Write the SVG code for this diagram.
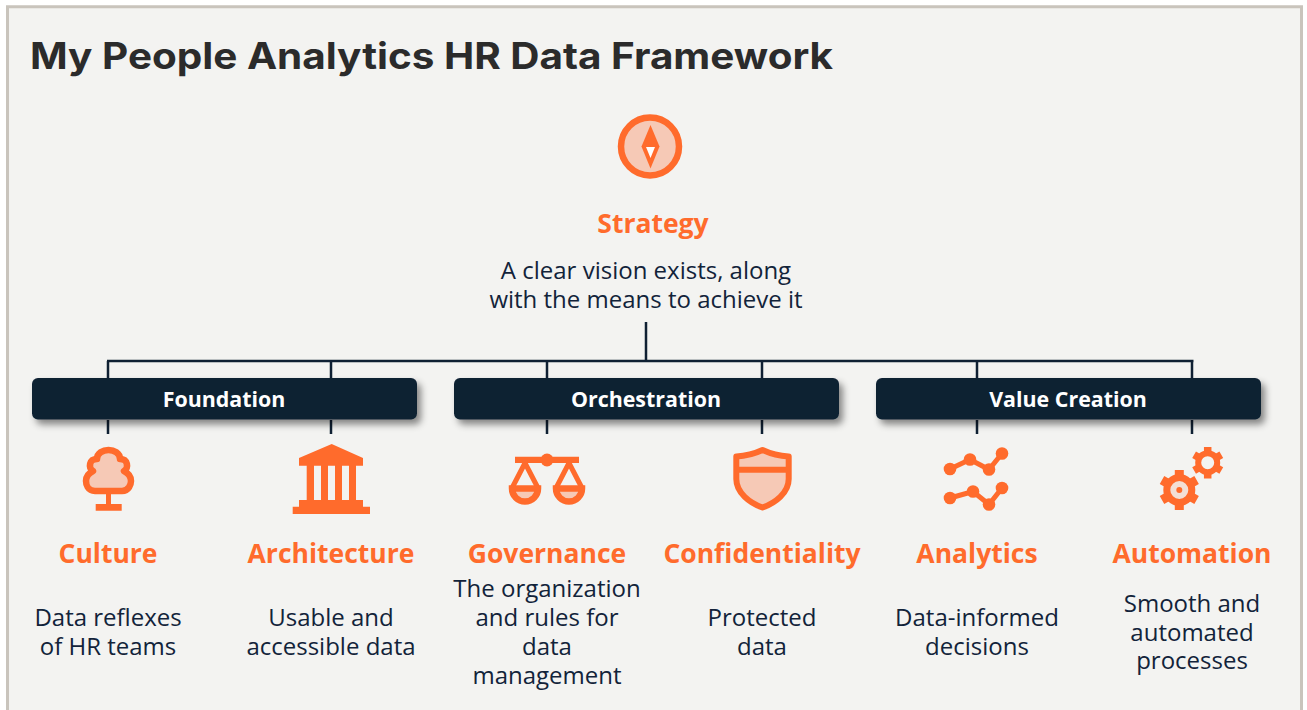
<svg xmlns="http://www.w3.org/2000/svg" width="1307" height="710" viewBox="0 0 1307 710">
<defs>
<style>
text{font-family:"Open Sans","Noto Sans",sans-serif;text-anchor:middle}
.t{font-family:Inter,"Open Sans",sans-serif;font-size:36.500px;font-weight:700;fill:#2b2b2b;text-anchor:start}
.h{font-size:26.500px;font-weight:700;fill:#ff6b2c}
.b{font-size:24px;fill:#12233a}
.k{font-size:21.400px;font-weight:700;fill:#fff}
.bar{fill:#0f2033;filter:url(#s)}
.c{stroke:#0f2033;stroke-width:2.500;fill:none}
.o{fill:#ff6b2c}
.l{fill:#f6c9b6}
.st{stroke:#ff6b2c;fill:none;stroke-width:5}
</style>
<filter id="s" x="-5%" y="-30%" width="110%" height="170%"><feDropShadow dx="4" dy="5" stdDeviation="3.500" flood-color="#000" flood-opacity="0.45"/></filter>
</defs>
<rect x="0" y="0" width="1307" height="710" fill="#fff"/>
<path d="M7.500 712V6.800H1301.500V712" fill="#f3f3f1" stroke="#c9c4bc" stroke-width="3"/>
<text class="t" x="30" y="68.500" textLength="803" lengthAdjust="spacingAndGlyphs">My People Analytics HR Data Framework</text>
<g id="connectors">
<path class="c" d="M646 322V361M107 361H1193.500M108 361V378M331 361V378M547 361V378M762 361V378M977 361V378M1192 361V378M108 420V434M331 420V434M547 420V434M762 420V434M977 420V434M1192 420V434"/>
</g>
<g id="strategy">
<circle cx="650" cy="146.500" r="29" fill="#f6c9b6" stroke="#ff6b2c" stroke-width="6.500"/>
<path class="o" d="M650.500 125L659.500 146.500L650.500 168.500L641.500 146.500Z"/>
<path d="M646 147H655L650.500 158Z" fill="#fff"/>
<text class="h" x="653" y="233">Strategy</text>
<text class="b" x="646" y="279">A clear vision exists, along</text>
<text class="b" x="646" y="308">with the means to achieve it</text>
</g>
<g id="foundation"><rect class="bar" x="32" y="378" width="385" height="41.500" rx="6"/><text class="k" x="224" y="407">Foundation</text></g>
<g id="orchestration"><rect class="bar" x="454" y="378" width="385" height="41.500" rx="6"/><text class="k" x="646" y="407">Orchestration</text></g>
<g id="value-creation"><rect class="bar" x="876" y="378" width="385" height="41.500" rx="6"/><text class="k" x="1068" y="407">Value Creation</text></g>
<g id="culture">
<path class="l" stroke="#ff6b2c" stroke-width="6.500" stroke-linejoin="round" d="M95 491C87.500 491 86 484 86 481C86 476 89 473 93 471C88 468 89 459 97 459C97 453 103 450 108.500 450C114 450 120 453 120 459C128 459 129 468 124 471C128 473 131 476 131 481C131 484 129 491 122 491Z"/>
<path class="o" d="M106 493H111V504H121.700V510.700H95.700V504H106Z"/>
<text class="h" x="108" y="563">Culture</text>
<text class="b" x="108" y="626">Data reflexes</text>
<text class="b" x="108" y="655">of HR teams</text>
</g>
<g id="architecture">
<path class="o" d="M331.700 444L363 458V465.700H299V458ZM306.700 465.700H314V500H306.700ZM321 465.700H328V500H321ZM335 465.700H342V500H335ZM349 465.700H356V500H349ZM299 500H363V506.700H370V514H292.700V506.700H299Z"/>
<text class="h" x="331" y="563">Architecture</text>
<text class="b" x="331" y="626">Usable and</text>
<text class="b" x="331" y="655">accessible data</text>
</g>
<g id="governance">
<path class="o" d="M515 456.700H579V463H515Z"/><circle class="o" cx="547" cy="460" r="6.500"/>
<path class="st" d="M525 463L511.500 489M525 463L538.500 489M569 463L555.500 489M569 463L582.500 489"/>
<path class="l" stroke="#ff6b2c" stroke-width="6.500" d="M512 488.500A13 13 0 0 0 538 488.500ZM556 488.500A13 13 0 0 0 582 488.500Z"/>
<text class="h" x="547" y="563">Governance</text>
<text class="b" x="547" y="597">The organization</text>
<text class="b" x="547" y="626">and rules for</text>
<text class="b" x="547" y="655">data</text>
<text class="b" x="547" y="684">management</text>
</g>
<g id="confidentiality">
<path class="l" stroke="#ff6b2c" stroke-width="6" stroke-linejoin="round" d="M762.500 450C754 454 746 456 736.300 456.500V479C736.300 493 750 503 762.500 507.500C775 503 788.700 493 788.700 479V456.500C779 456 771 454 762.500 450Z"/>
<path class="o" d="M736 466.700H789V472.700H736Z"/>
<text class="h" x="762" y="563">Confidentiality</text>
<text class="b" x="762" y="626">Protected</text>
<text class="b" x="762" y="655">data</text>
</g>
<g id="analytics">
<path class="st" d="M950 469L970 459.500L989 469.500L1002 453.500M950 498L973 491.500L989 504.500L1002 488"/>
<g class="o"><circle cx="950" cy="469" r="6.300"/><circle cx="970" cy="459.500" r="6.300"/><circle cx="989" cy="469.500" r="6.300"/><circle cx="1002" cy="453.500" r="6.300"/><circle cx="950" cy="498" r="6.300"/><circle cx="973" cy="491.500" r="6.300"/><circle cx="989" cy="504.500" r="6.300"/><circle cx="1002" cy="488" r="6.300"/></g>
<text class="h" x="977" y="563">Analytics</text>
<text class="b" x="977" y="626">Data-informed</text>
<text class="b" x="977" y="655">decisions</text>
</g>
<g id="automation">
<path class="st" style="stroke-width:9" d="M1179.300 470V510M1162 480L1196.600 500M1196.600 480L1162 500"/>
<circle cx="1179.300" cy="490" r="12.500" fill="#f3dfd5" stroke="#ff6b2c" stroke-width="7"/>
<circle class="o" cx="1179.300" cy="490" r="3"/>
<path class="st" style="stroke-width:7.500" d="M1207.700 447V478.400M1194.100 454.850L1221.300 470.550M1221.300 454.850L1194.100 470.550"/>
<circle cx="1207.700" cy="462.700" r="9.500" fill="#f3f3f1" stroke="#ff6b2c" stroke-width="6"/>
<text class="h" x="1192" y="563">Automation</text>
<text class="b" x="1192" y="612">Smooth and</text>
<text class="b" x="1192" y="641">automated</text>
<text class="b" x="1192" y="669">processes</text>
</g>
</svg>
